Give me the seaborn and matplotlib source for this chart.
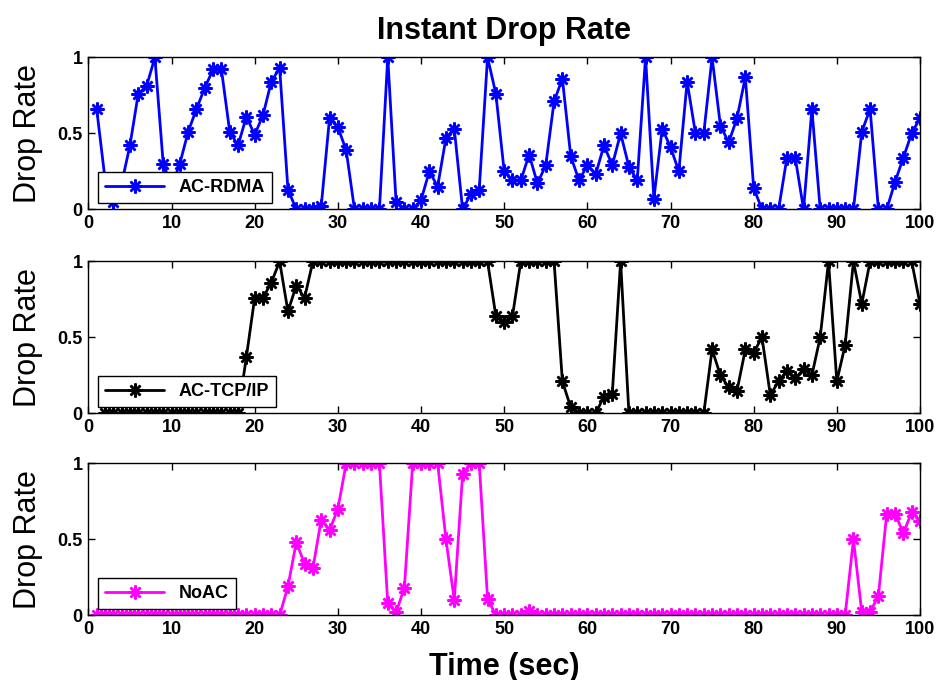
import matplotlib
matplotlib.use("Agg")
import matplotlib.pyplot as plt
import pandas as pd
import seaborn as sns

# time axis (sec)
time_sec = [1, 2, 3, 4, 5, 6, 7, 8, 9, 10, 11, 12, 13, 14, 15, 16, 17, 18, 19, 20,
            21, 22, 23, 24, 25, 26, 27, 28, 29, 30, 31, 32, 33, 34, 35, 36, 37, 38, 39, 40,
            41, 42, 43, 44, 45, 46, 47, 48, 49, 50, 51, 52, 53, 54, 55, 56, 57, 58, 59, 60,
            61, 62, 63, 64, 65, 66, 67, 68, 69, 70, 71, 72, 73, 74, 75, 76, 77, 78, 79, 80,
            81, 82, 83, 84, 85, 86, 87, 88, 89, 90, 91, 92, 93, 94, 95, 96, 97, 98, 99, 100]

rdma = [0.66, 0.20, 0.05, 0.17, 0.42, 0.76, 0.81, 1.00, 0.30, 0.15,
        0.30, 0.51, 0.66, 0.80, 0.92, 0.92, 0.51, 0.42, 0.61, 0.49,
        0.62, 0.84, 0.93, 0.13, 0.00, 0.00, 0.00, 0.02, 0.60, 0.54,
        0.39, 0.00, 0.00, 0.00, 0.00, 1.00, 0.05, 0.00, 0.00, 0.06,
        0.25, 0.15, 0.47, 0.53, 0.00, 0.10, 0.13, 1.00, 0.76, 0.25,
        0.19, 0.19, 0.36, 0.17, 0.29, 0.71, 0.86, 0.35, 0.19, 0.29,
        0.23, 0.42, 0.29, 0.50, 0.28, 0.19, 1.00, 0.07, 0.53, 0.41,
        0.25, 0.84, 0.50, 0.50, 1.00, 0.55, 0.44, 0.60, 0.87, 0.14,
        0.00, 0.00, 0.00, 0.34, 0.34, 0.00, 0.66, 0.00, 0.00, 0.00,
        0.00, 0.00, 0.51, 0.66, 0.00, 0.00, 0.18, 0.34, 0.50, 0.60]

# AC-TCP/IP starts at t=2
tcp = [0.00, 0.00, 0.00, 0.00, 0.00, 0.00, 0.00, 0.00, 0.00,
       0.00, 0.00, 0.00, 0.00, 0.00, 0.00, 0.00, 0.00, 0.37, 0.76,
       0.76, 0.86, 1.00, 0.67, 0.84, 0.76, 1.00, 1.00, 1.00, 1.00,
       1.00, 1.00, 1.00, 1.00, 1.00, 1.00, 1.00, 1.00, 1.00, 1.00,
       1.00, 1.00, 1.00, 1.00, 1.00, 1.00, 1.00, 1.00, 0.64, 0.60,
       0.64, 1.00, 1.00, 1.00, 1.00, 1.00, 0.21, 0.04, 0.00, 0.00,
       0.00, 0.11, 0.13, 1.00, 0.00, 0.00, 0.00, 0.00, 0.00, 0.00,
       0.00, 0.00, 0.00, 0.00, 0.42, 0.25, 0.17, 0.15, 0.42, 0.40,
       0.50, 0.12, 0.21, 0.28, 0.23, 0.29, 0.25, 0.50, 1.00, 0.21,
       0.45, 1.00, 0.72, 1.00, 1.00, 1.00, 1.00, 1.00, 1.00, 0.72]

noac = [0.00, 0.00, 0.00, 0.00, 0.00, 0.00, 0.00, 0.00, 0.00, 0.00,
        0.00, 0.00, 0.00, 0.00, 0.00, 0.00, 0.00, 0.00, 0.00, 0.00,
        0.00, 0.00, 0.00, 0.19, 0.48, 0.34, 0.31, 0.63, 0.56, 0.70,
        1.00, 1.00, 1.00, 1.00, 1.00, 0.08, 0.02, 0.18, 1.00, 1.00,
        1.00, 1.00, 0.50, 0.10, 0.93, 1.00, 1.00, 0.11, 0.00, 0.00,
        0.00, 0.00, 0.03, 0.00, 0.00, 0.00, 0.00, 0.00, 0.00, 0.00,
        0.00, 0.00, 0.00, 0.00, 0.00, 0.00, 0.00, 0.00, 0.00, 0.00,
        0.00, 0.00, 0.00, 0.00, 0.00, 0.00, 0.00, 0.00, 0.00, 0.00,
        0.00, 0.00, 0.00, 0.00, 0.00, 0.00, 0.00, 0.00, 0.00, 0.00,
        0.00, 0.50, 0.02, 0.02, 0.13, 0.67, 0.67, 0.54, 0.68, 0.62]

series_names = ["AC-RDMA", "AC-TCP/IP", "NoAC"]
series_colors = ["#0000ff", "#000000", "#ff00ff"]
xticks = [0, 10, 20, 30, 40, 50, 60, 70, 80, 90, 100]
yticks = [0, 0.5, 1]
ytick_labels = ["0", "0.5", "1"]

sns.set_theme(style="ticks")
plt.rcParams["font.family"] = ["Liberation Sans", "DejaVu Sans"]
plt.rcParams["text.color"] = "black"
plt.rcParams["axes.labelcolor"] = "black"
plt.rcParams["xtick.color"] = "black"
plt.rcParams["ytick.color"] = "black"

frames = [
    pd.DataFrame({"t": time_sec, "rate": rdma}),
    pd.DataFrame({"t": time_sec[1:], "rate": tcp}),
    pd.DataFrame({"t": time_sec, "rate": noac}),
]

fig = plt.figure(figsize=(9.36, 6.8), dpi=100)
bottoms = [0.6922, 0.3922, 0.0951]
axes = [fig.add_axes([0.0944, b, 0.8885, 0.2235]) for b in bottoms]

for ax, df, name, col in zip(axes, frames, series_names, series_colors):
    # asterisk markers like matlab's '*-'
    sns.lineplot(data=df, x="t", y="rate", ax=ax, color=col, linewidth=2.0,
                 marker=(8, 2, 0), markersize=10, markeredgewidth=1.8,
                 markeredgecolor=col, label=name)
    ax.set_xlim(0, 100)
    ax.set_ylim(0, 1)
    ax.set_xticks(xticks)
    ax.set_xticklabels([str(v) for v in xticks], fontsize=13, fontweight="bold",
                       color="black")
    ax.set_yticks(yticks)
    ax.set_yticklabels(ytick_labels, fontsize=13, fontweight="bold", color="black")
    ax.tick_params(direction="in", length=5, width=1, top=True, right=True,
                   colors="black", pad=4)
    for sp in ax.spines.values():
        sp.set_visible(True)
        sp.set_color("black")
        sp.set_linewidth(1)
    ax.set_xlabel("")
    ax.set_ylabel("Drop Rate", fontsize=22, color="black")
    ax.yaxis.set_label_coords(-0.055, 0.5)
    leg = ax.legend(loc="lower left", bbox_to_anchor=(0.011, 0.04), borderaxespad=0,
                    fancybox=False, framealpha=1, edgecolor="black",
                    handlelength=3.3, prop={"size": 13, "weight": "bold"})
    leg.get_frame().set_linewidth(1)
    for t in leg.get_texts():
        t.set_color("black")

axes[0].set_title("Instant Drop Rate", fontsize=22, fontweight="bold", pad=13,
                  color="black")
axes[2].set_xlabel("Time (sec)", fontsize=22, fontweight="bold", labelpad=10,
                   color="black")

fig.savefig("out.png", dpi=100, facecolor="white")
